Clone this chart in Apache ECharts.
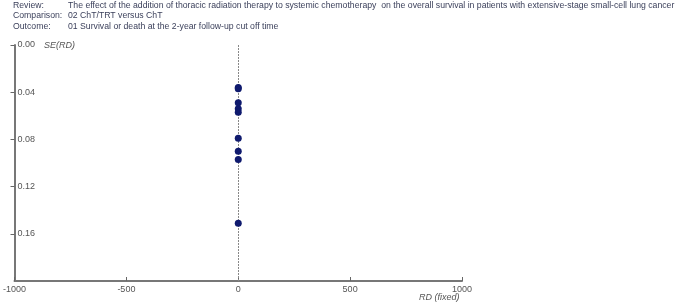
<!DOCTYPE html>
<html><head><meta charset="utf-8">
<script src="https://cdn.jsdelivr.net/npm/echarts@6/dist/echarts.min.js"></script>
<style>html,body{margin:0;padding:0;background:#fff}#c{width:685px;height:306px}</style>
</head><body><div id="c"></div>
<script>
const headerLabels = ["Review:", "Comparison:", "Outcome:"];
const headerValues = [
  "The effect of the addition of thoracic radiation therapy to systemic chemotherapy  on the overall survival in patients with extensive-stage small-cell lung cancer",
  "02 ChT/TRT versus ChT",
  "01 Survival or death at the 2-year follow-up cut off time"
];
const rdValues = [0, 0, 0, 0, 0, 0, 0, 0, 0];
const seValues = [0.036, 0.037, 0.049, 0.054, 0.057, 0.079, 0.090, 0.097, 0.151];
const xTicks = [-1000, -500, 0, 500, 1000];
const yTicks = [0, 0.04, 0.08, 0.12, 0.16];
const yLabel = "SE(RD)";
const xLabel = "RD (fixed)";

const chart = echarts.init(document.getElementById('c'));
const txt = {fontFamily: 'Arial, Liberation Sans', fontSize: 8.7, fill: '#3a3f5a'};
const graphics = [];
headerLabels.forEach((l, i) => {
  graphics.push({type: 'text', left: 13, top: 1 + i * 10.5, style: Object.assign({text: l}, txt)});
  graphics.push({type: 'text', left: 68, top: 1 + i * 10.5, style: Object.assign({text: headerValues[i]}, txt)});
});
graphics.push({type: 'text', left: 44, top: 41, style: {text: yLabel, fontFamily: 'Arial, Liberation Sans', fontSize: 9, fontStyle: 'italic', fill: '#555'}});
graphics.push({type: 'text', left: 419, top: 293, style: {text: xLabel, fontFamily: 'Arial, Liberation Sans', fontSize: 9, fontStyle: 'italic', fill: '#555'}});

chart.setOption({
  animation: false,
  graphic: graphics,
  grid: {left: 12, right: 223, top: 45, bottom: 25},
  xAxis: {
    type: 'value', min: xTicks[0], max: xTicks[xTicks.length - 1], interval: 500,
    position: 'bottom',
    splitLine: {show: false},
    axisLine: {onZero: false, lineStyle: {color: '#777', width: 2}},
    axisTick: {inside: true, length: 4, lineStyle: {color: '#666'}},
    axisLabel: {color: '#555', fontSize: 9, fontFamily: 'Arial, Liberation Sans', margin: 4,
      formatter: v => String(v)}
  },
  yAxis: {
    type: 'value', inverse: true, min: 0, max: 0.2, interval: 0.04,
    position: 'left',
    splitLine: {show: false},
    axisLine: {onZero: false, lineStyle: {color: '#777', width: 2}},
    axisTick: {inside: false, length: 4, lineStyle: {color: '#666'}},
    axisLabel: {inside: true, showMaxLabel: false, color: '#555', fontSize: 9, fontFamily: 'Arial, Liberation Sans', margin: 3,
      formatter: v => v.toFixed(2)}
  },
  series: [{
    type: 'scatter',
    data: rdValues.map((x, i) => [x, seValues[i]]),
    symbolSize: 7,
    itemStyle: {color: '#0f1a6e', opacity: 1},
    z: 5,
    markLine: {
      silent: true, symbol: 'none', label: {show: false},
      lineStyle: {color: '#888', type: [2, 1], width: 1},
      data: [{xAxis: 0}]
    }
  }]
});
</script></body></html>
